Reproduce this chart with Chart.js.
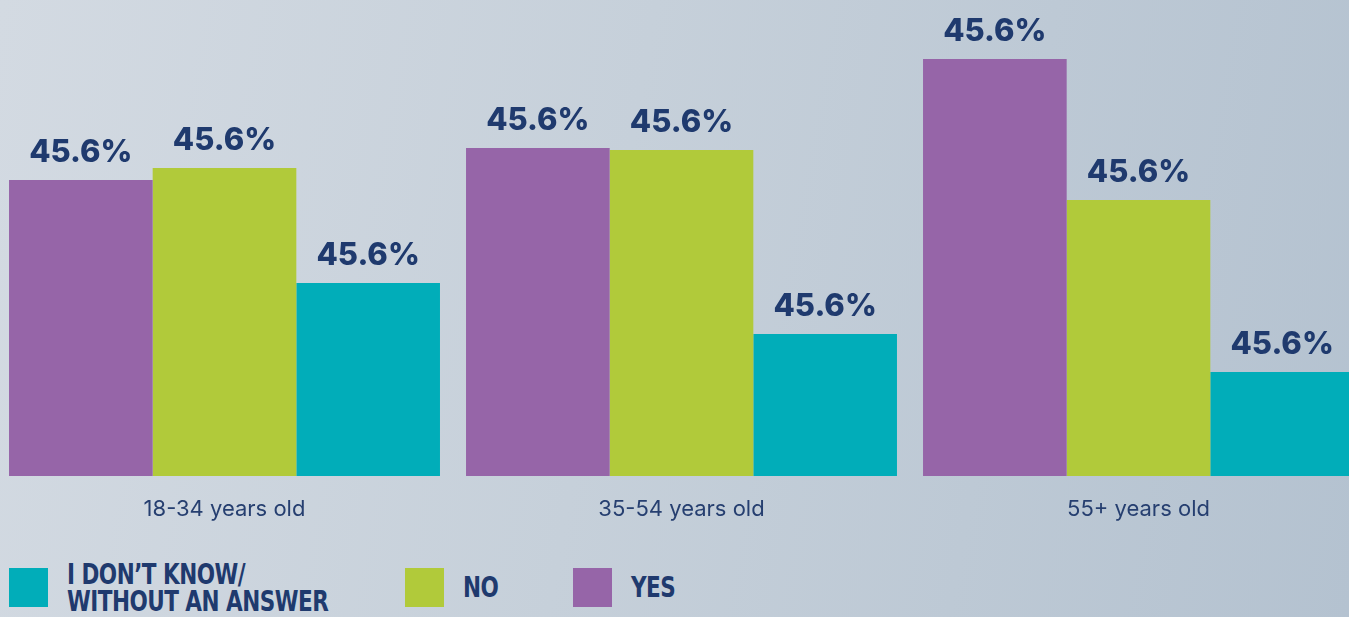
<!DOCTYPE html>
<html>
<head>
<meta charset="utf-8">
<script src="https://cdn.jsdelivr.net/npm/chart.js@4.4.1/dist/chart.umd.min.js"></script>
<style>
  html, body { margin: 0; padding: 0; width: 1349px; height: 617px; overflow: hidden; }
  body {
    position: relative;
    background: linear-gradient(100deg, #d3dae2 0%, #c6d0da 45%, #b4c2d0 100%);
  }
  #wrap { position: absolute; left: -4px; top: 0; width: 1371px; height: 540px; }
  .item { position: absolute; top: 560px; height: 55px; display: flex; align-items: center; }
  .swatch { width: 39px; height: 39px; margin-right: 19px; flex: none; }
  .txt {
    font-family: "DejaVu Sans Condensed", "Liberation Sans Narrow", sans-serif;
    font-weight: bold; font-size: 28px; line-height: 27px; color: #1f3a6e;
    letter-spacing: -0.6px; white-space: nowrap;
    transform: scaleX(0.855); transform-origin: left center;
  }
</style>
</head>
<body>
<div id="wrap"><canvas id="chart"></canvas></div>
<div id="legend"></div>
<script>
(function () {
    "use strict";

    var ageGroups = ['18-34 years old', '35-54 years old', '55+ years old'];
    var yesValues = [29.6, 32.8, 41.7];
    var noValues = [30.8, 32.6, 27.6];
    var unsureValues = [19.3, 14.2, 10.4];
    var yesLabels = ['45.6%', '45.6%', '45.6%'];
    var noLabels = ['45.6%', '45.6%', '45.6%'];
    var unsureLabels = ['45.6%', '45.6%', '45.6%'];

    var navy = '#1f3a6e';

    var datasets = [
        { label: 'YES', data: yesValues, valueLabels: yesLabels, backgroundColor: '#9665a8' },
        { label: 'NO', data: noValues, valueLabels: noLabels, backgroundColor: '#b1ca3a' },
        { label: "I DON\u2019T KNOW/\nWITHOUT AN ANSWER", data: unsureValues, valueLabels: unsureLabels, backgroundColor: '#01adb9' }
    ];

    // Percent labels above every bar.
    var barLabels = {
        id: 'barLabels',
        afterDatasetsDraw: function (chart) {
            var ctx = chart.ctx;
            ctx.save();
            ctx.font = '800 31px Inter, sans-serif';
            ctx.fillStyle = navy;
            ctx.textAlign = 'center';
            ctx.textBaseline = 'alphabetic';
            chart.data.datasets.forEach(function (ds, i) {
                chart.getDatasetMeta(i).data.forEach(function (bar, j) {
                    ctx.fillText(ds.valueLabels[j], bar.x, bar.y - 18);
                });
            });
            ctx.restore();
        }
    };

    new Chart(document.getElementById('chart'), {
        type: 'bar',
        data: { labels: ageGroups, datasets: datasets },
        options: {
            responsive: true,
            maintainAspectRatio: false,
            animation: false,
            layout: { padding: 0 },
            datasets: { bar: { barPercentage: 1, categoryPercentage: 0.943 } },
            scales: {
                x: {
                    grid: { display: false },
                    border: { display: false },
                    ticks: { color: '#263f70', font: { family: 'Inter', size: 22 }, padding: 12 },
                    afterFit: function (scale) { scale.height = 64; }
                },
                y: { display: false, min: 0, max: 47.6 }
            },
            plugins: { legend: { display: false }, tooltip: { enabled: false } }
        },
        plugins: [barLabels]
    });

    // Legend below the chart, teal / green / purple order.
    var legend = document.getElementById('legend');
    var order = [2, 1, 0];
    var lefts = [9, 405, 573];
    order.forEach(function (idx, k) {
        var ds = datasets[idx];
        var item = document.createElement('div');
        item.className = 'item';
        item.style.left = lefts[k] + 'px';
        var sw = document.createElement('div');
        sw.className = 'swatch';
        sw.style.background = ds.backgroundColor;
        var tx = document.createElement('div');
        tx.className = 'txt';
        tx.innerHTML = ds.label.split('\n').join('<br>');
        item.appendChild(sw);
        item.appendChild(tx);
        legend.appendChild(item);
    });
})();
</script>
</body>
</html>
